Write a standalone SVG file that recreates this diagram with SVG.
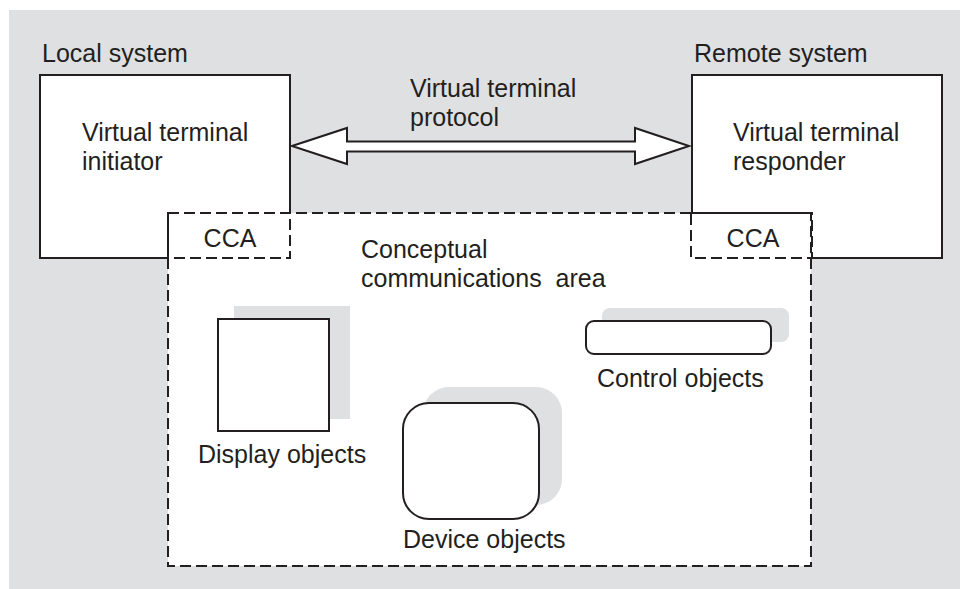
<svg xmlns="http://www.w3.org/2000/svg" width="960" height="589" viewBox="0 0 960 589">
<style>
text{font-family:"Liberation Sans",Arial,sans-serif;font-size:25px;fill:#231f20}
.box{fill:#fff;stroke:#231f20;stroke-width:2}
.dash{fill:#fff;stroke:#231f20;stroke-width:2;stroke-dasharray:11 5}
.dashn{fill:none;stroke:#231f20;stroke-width:2;stroke-dasharray:11 5}
.sh{fill:#dfe0e2}
</style>
<rect x="0" y="0" width="960" height="589" fill="#fff"/>
<rect x="9" y="10" width="951" height="579" fill="#dfe0e2"/>
<g id="local-system">
<text x="42" y="62">Local system</text>
<rect class="box" x="40" y="75" width="250" height="183"/>
<text x="82" y="141">Virtual terminal</text>
<text x="82" y="170">initiator</text>
</g>
<g id="remote-system">
<text x="694" y="62">Remote system</text>
<rect class="box" x="692" y="75" width="250" height="183"/>
<text x="733" y="141">Virtual terminal</text>
<text x="733" y="170">responder</text>
</g>
<g id="cca-area">
<rect class="dash" x="168" y="213" width="643" height="353"/>
<text x="361" y="258">Conceptual</text>
<text x="361" y="287" xml:space="preserve">communications  area</text>
</g>
<g id="cca-local">
<rect class="dashn" x="168" y="213" width="122" height="45"/>
<text x="230" y="247" text-anchor="middle">CCA</text>
</g>
<g id="cca-remote">
<rect class="dashn" x="691" y="213" width="121" height="45"/>
<text x="753" y="247" text-anchor="middle">CCA</text>
</g>
<g id="display-objects">
<rect class="sh" x="234" y="306" width="116" height="113"/>
<rect class="box" x="218" y="319" width="111" height="112"/>
<text x="198" y="463">Display objects</text>
</g>
<g id="device-objects">
<rect class="sh" x="423" y="387" width="139" height="118" rx="26"/>
<rect class="box" x="403" y="403" width="136" height="116" rx="26"/>
<text x="403" y="548">Device objects</text>
</g>
<g id="control-objects">
<rect class="sh" x="602" y="308" width="187" height="34" rx="8"/>
<rect class="box" x="586" y="321" width="185" height="33" rx="8"/>
<text x="597" y="387">Control objects</text>
</g>
<g id="connectors">
<path d="M292,146 L347,128 L347,141.5 L635,141.5 L635,128 L689,146 L635,164 L635,151.5 L347,151.5 L347,164 Z" fill="#fff" stroke="#231f20" stroke-width="2" stroke-linejoin="miter"/>
<text x="410" y="97">Virtual terminal</text>
<text x="410" y="126">protocol</text>
</g>
</svg>
